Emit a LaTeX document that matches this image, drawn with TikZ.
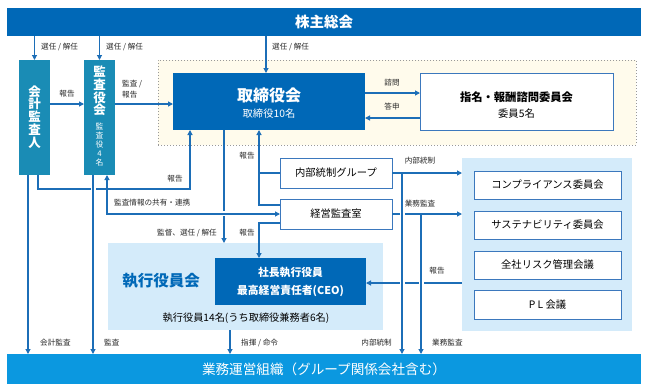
\documentclass[tikz,border=0pt]{standalone}
\usepackage{fontspec}
\setmainfont{Noto Sans CJK JP}
\usetikzlibrary{arrows.meta}
\definecolor{dblue}{HTML}{0068B7}
\definecolor{tealbx}{HTML}{1A8CB5}
\definecolor{bbar}{HTML}{0B98E0}
\definecolor{lblue}{HTML}{D4EBFA}
\definecolor{lyel}{HTML}{FFFBEC}
\definecolor{arr}{HTML}{1C6EB7}
\definecolor{bord}{HTML}{3B78BD}
\tikzset{
  ln/.style={draw=arr, line width=1.1pt},
  ar/.style={ln, -{Triangle[length=5pt,width=5pt]}},
  dar/.style={ln, {Triangle[length=5pt,width=5pt]}-{Triangle[length=5pt,width=5pt]}},
  gapw/.style={draw=white, line width=5pt},
  lbl/.style={font=\fontsize{7.6}{8.5}\selectfont, text=black!85, inner sep=0pt},
  bx/.style={anchor=north west, inner sep=0pt, outer sep=0pt},
  wbox/.style={bx, draw=bord, fill=white, line width=0.8pt, font=\fontsize{10.3}{12}\selectfont},
  vtxt/.style={text=white, font=\bfseries\fontsize{12.5}{12.8}\selectfont, align=center, inner sep=0pt},
}
\begin{document}
\begin{tikzpicture}[x=1pt,y=-1pt]
\useasboundingbox (0,0) rectangle (648,389);
% main blocks
\node[bx, fill=dblue, minimum width=634pt, minimum height=28pt, text=white, font=\bfseries\fontsize{14.5}{16}\selectfont] (top) at (7,8) {株主総会};
\node[bx, fill=bbar, minimum width=634pt, minimum height=30pt, text=white, font=\fontsize{13.6}{15}\selectfont] (bot) at (7,354) {業務運営組織（グループ関係会社含む）};
\node[bx, fill=tealbx, minimum width=31pt, minimum height=115pt] (kaikei) at (19,60) {};
\node[vtxt] (kaikeit) at (34.5,117) {会\\計\\監\\査\\人};
\node[bx, fill=tealbx, minimum width=31pt, minimum height=115pt] (kansa) at (84,60) {};
\node[vtxt] (kansat) at (99.5,91) {監\\査\\役\\会};
\node[vtxt, font=\fontsize{7.8}{9}\selectfont] (kansan) at (99.5,145) {監\\査\\役\\4\\名};
\node[bx, fill=lyel, draw=gray!80, dotted, line width=1pt, minimum width=478pt, minimum height=85pt] (dot) at (158,60) {};
\node[bx, fill=dblue, minimum width=192pt, minimum height=57pt] (tori) at (173,73) {};
\node[text=white, font=\bfseries\fontsize{16}{18}\selectfont] (torit) at (269,95) {取締役会};
\node[text=white, font=\fontsize{10.3}{12}\selectfont] (torin) at (269,114) {取締役10名};
\node[wbox, minimum width=193pt, minimum height=57pt] (shimei) at (420,73) {};
\node[font=\bfseries\fontsize{11.3}{13}\selectfont] (shimeit) at (516.5,97) {指名・報酬諮問委員会};
\node[font=\fontsize{10.3}{12}\selectfont] (shimein) at (516.5,114) {委員5名};
\node[wbox, minimum width=112pt, minimum height=30pt] (naibu) at (280,158) {内部統制グループ};
\node[wbox, minimum width=112pt, minimum height=30pt] (keiei) at (280,199) {経営監査室};
\node[bx, fill=lblue, minimum width=275pt, minimum height=87pt] (exec) at (108,243) {};
\node[text=dblue, font=\bfseries\fontsize{15.5}{17}\selectfont] (exect) at (161,281) {執行役員会};
\node[font=\fontsize{10.2}{11}\selectfont] (execn) at (246,318) {執行役員14名(うち取締役兼務者6名)};
\node[bx, fill=dblue, minimum width=151pt, minimum height=47pt, text=white, align=center, font=\bfseries\fontsize{10.8}{18}\selectfont] (ceo) at (215,258) {社長執行役員\\最高経営責任者(CEO)};
\node[bx, fill=lblue, minimum width=170pt, minimum height=173pt] (comm) at (462,158) {};
\node[wbox, minimum width=147pt, minimum height=28pt] (c1) at (474,171) {コンプライアンス委員会};
\node[wbox, minimum width=147pt, minimum height=28pt] (c2) at (474,211) {サステナビリティ委員会};
\node[wbox, minimum width=147pt, minimum height=28pt] (c3) at (474,251) {全社リスク管理会議};
\node[wbox, minimum width=147pt, minimum height=29pt] (c4) at (474,290) {P L 会議};
% coordinates
\coordinate (xa) at (28,0);
\coordinate (xb) at (38,0);
\coordinate (xc) at (93,0);
\coordinate (xd) at (107,0);
\coordinate (xe) at (190,0);
\coordinate (xf) at (224,0);
\coordinate (xg) at (230,0);
\coordinate (xh) at (259,0);
\coordinate (xi) at (266,0);
\coordinate (xj) at (402,0);
\coordinate (xk) at (421,0);
% top arrows
\draw[ar] (top.south -| kaikei) -- (kaikei.north);
\node[lbl, anchor=west] (l1) at (41,47) {選任 / 解任};
\draw[ar] (top.south -| kansa) -- (kansa.north);
\node[lbl, anchor=west] (l2) at (106,47) {選任 / 解任};
\draw[ar] (top.south -| xi) -- (tori.north -| xi);
\node[lbl, anchor=west] (l3) at (272,47) {選任 / 解任};
% horizontals in top row
\draw[ar] (kaikei.east |- 0,104) -- (kansa.west |- 0,104);
\node[lbl] (l4) at (67,94) {報告};
\draw[ar] (kansa.east |- 0,104) -- (tori.west |- 0,104);
\node[lbl, align=left, anchor=west, font=\fontsize{7.6}{11}\selectfont] (l5) at (122,89) {監査 /\\報告};
\draw[ar] (tori.east |- 0,93) -- (shimei.west |- 0,93);
\node[lbl] (l6) at (392,83) {諮問};
\draw[ar] (shimei.west |- 0,118) -- (tori.east |- 0,118);
\node[lbl] (l7) at (392,107) {答申};
% report from kaikei to tori
\draw[ar] (kaikei.south -| xb) |- (xe |- 0,189) -- (tori.south -| xe);
\node[lbl] (l8) at (175,179) {報告};
% downward to bottom bar
\draw[gapw] (93,182) -- (93,348);
\draw[ar] (kansa.south -| xc) -- (bot.north -| xc);
\node[lbl, anchor=west] (l9) at (104,343) {監査};
\draw[ar] (kaikei.south -| xa) -- (bot.north -| xa);
\node[lbl, anchor=west] (l10) at (40,343) {会計監査};
% board supervision
\draw[ar] (tori.south -| xf) -- (exec.north -| xf);
\node[lbl, anchor=east] (l11) at (217,233) {監督、選任 / 解任};
% shared audit info
\draw[gapw] (112,213) -- (270,213);
\draw[dar] (kansa.south -| xd) |- (keiei.west);
\node[lbl, anchor=west] (l12) at (114,203) {監査情報の共有・連携};
% reports to board
\draw[ar] (keiei.west |- 0,205) -| (tori.south -| xh);
\draw[ln] (naibu.west) -- (naibu.west -| xh);
\node[lbl] (l13) at (247,156) {報告};
% report to CEO
\draw[ar] (keiei.west |- 0,223) -| (ceo.north -| xh);
\node[lbl] (l14) at (247,233) {報告};
% command
\draw[ar] (exec.south -| xg) -- (bot.north -| xg);
\node[lbl, anchor=west] (l15) at (241,343) {指揮 / 命令};
% committees
\draw[ar] (comm.west |- 0,283) -- (ceo.east |- 0,283);
\node[lbl] (l16) at (437,271) {報告};
\draw[ar] (naibu.east) -- (comm.west |- naibu.east);
\node[lbl] (l17) at (420,161) {内部統制};
\draw[ar] (keiei.east) -- (comm.west |- keiei.east);
\node[lbl] (l18) at (420,204) {業務監査};
\draw[gapw] (402,182) -- (402,348);
\draw[gapw] (421,222) -- (421,348);
\draw[ar] (naibu.east -| xj) -- (bot.north -| xj);
\draw[ar] (keiei.east -| xk) -- (bot.north -| xk);
\node[lbl, anchor=east] (l19) at (392,343) {内部統制};
\node[lbl, anchor=west] (l20) at (432,343) {業務監査};
\end{tikzpicture}
\end{document}
